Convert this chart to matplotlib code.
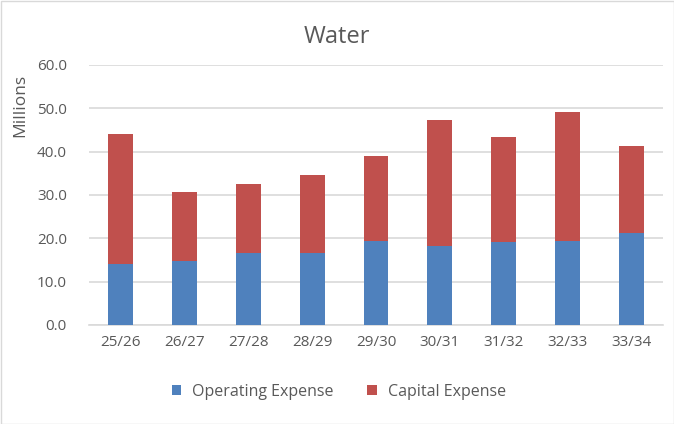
import matplotlib
matplotlib.use("Agg")
import matplotlib.pyplot as plt
from matplotlib.patches import Rectangle

categories = ["25/26", "26/27", "27/28", "28/29", "29/30", "30/31", "31/32", "32/33", "33/34"]
operating = [14.0, 14.7, 16.7, 16.7, 19.4, 18.2, 19.1, 19.5, 21.2]
capital = [30.0, 16.0, 15.9, 17.9, 19.7, 29.2, 24.4, 29.6, 20.2]
yticks = [0, 10, 20, 30, 40, 50, 60]

plt.rcParams['font.family'] = ['Open Sans', 'DejaVu Sans']

fig = plt.figure(figsize=(6.74, 4.24), dpi=100)
ax = fig.add_axes([89/674, 1-325/424, (663-89)/674, (325-65)/424])

x = range(len(categories))
blue = "#4F81BD"
red = "#C0504D"
ax.bar(x, operating, width=0.39, color=blue, label="Operating Expense", zorder=3)
ax.bar(x, capital, width=0.39, bottom=operating, color=red, label="Capital Expense", zorder=3)

ax.set_xlim(-0.5, len(categories)-0.5)
ax.set_ylim(0, 60)
ax.set_yticks(yticks)
ax.set_yticklabels([f"{v:.1f}" for v in yticks])
ax.set_xticks(list(x))
ax.set_xticklabels(categories)
ax.yaxis.grid(True, color="#D9D9D9", linewidth=1.2, zorder=0)
for s in ["top", "right", "left"]:
    ax.spines[s].set_visible(False)
ax.spines["bottom"].set_color("#D9D9D9")
ax.spines["bottom"].set_linewidth(1.2)
ax.tick_params(axis="both", length=0, labelsize=11, colors="#595959", pad=7)
ax.tick_params(axis="y", pad=16)

fig.text(337/674, 1-37/424, "Water", ha="center", va="center", fontsize=17, color="#595959")
fig.text(20/674, 1-105/424, "Millions", ha="center", va="center", rotation=90, fontsize=12.5, color="#595959")

leg = fig.legend(loc="center", bbox_to_anchor=(339/674, 1-392/424), ncol=2, frameon=False,
                 fontsize=11.5, handlelength=0.6, handleheight=0.6, columnspacing=2.1, handletextpad=0.7)
for t in leg.get_texts():
    t.set_color("#595959")

fig.patches.append(Rectangle((0.5/674, 0.5/424), 1-1/674, 1-1/424, transform=fig.transFigure,
                             fill=False, edgecolor="#D9D9D9", linewidth=1))

fig.savefig("out.png", dpi=100)
